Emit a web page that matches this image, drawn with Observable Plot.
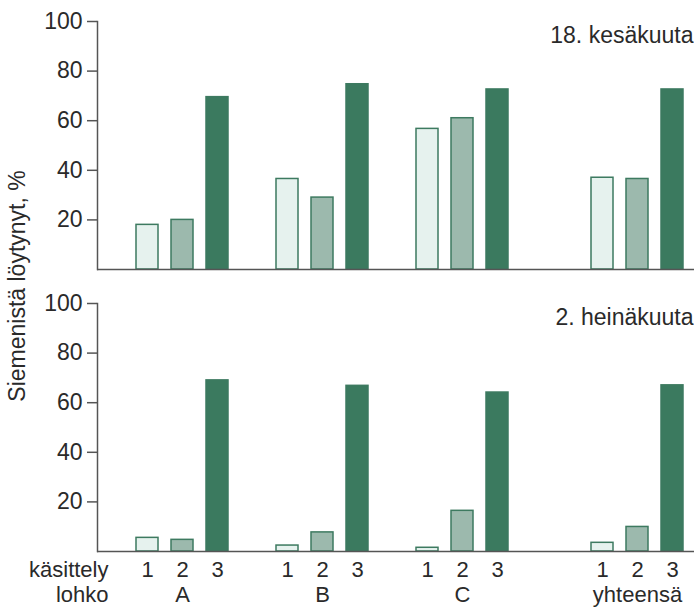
<!DOCTYPE html>
<html><head><meta charset="utf-8">
<script src="https://cdn.jsdelivr.net/npm/d3@7"></script>
<script src="https://cdn.jsdelivr.net/npm/@observablehq/plot@0.6"></script>
<style>body{margin:0;background:#fff;}</style>
</head><body><div id="chart"></div>
<script>
const groups = ["A", "B", "C", "yhteensä"];
const treatments = ["1", "2", "3"];
const dates = ["18. kesäkuuta", "2. heinäkuuta"];
const june18 = [18, 20, 69.5, 36.5, 29, 74.7, 56.7, 61, 72.6, 37, 36.5, 72.6];
const july2 = [5.5, 4.7, 69, 2.4, 7.7, 66.8, 1.5, 16.4, 64.1, 3.5, 9.9, 67];
const yTicks = [20, 40, 60, 80, 100];
const rowLabels = ["käsittely", "lohko"];
const yLabel = "Siemenistä löytynyt, %";
const colors = ["#e6f2ee", "#9cb9ad", "#3b7a5f"];

const slot = (g, t) => g + "|" + t;
const slots = [];
groups.forEach((g, i) => {
  if (i > 0) slots.push("gap" + i);
  if (i === groups.length - 1) slots.push("gap" + i + "b");
  treatments.forEach(t => slots.push(slot(g, t)));
});
const series = [june18, july2];
const rows = dates.flatMap((d, di) => groups.flatMap((g, gi) => treatments.map((t, ti) => ({
  date: d, group: g, treatment: t, value: series[di][gi * 3 + ti]
}))));

const plot = Plot.plot({
  width: 694, height: 608,
  marginLeft: 97, marginRight: 0, marginTop: 20, marginBottom: 56,
  style: {fontFamily: "'Liberation Sans', Arial, sans-serif", fontSize: "23px", color: "#2a2a2a", background: "#fff"},
  x: {domain: slots, paddingInner: 0.37, paddingOuter: 0.682, align: 0.772, axis: null},
  y: {domain: [0, 100], axis: null},
  fy: {domain: dates, paddingInner: 0.12, paddingOuter: 0, axis: null},
  color: {domain: treatments, range: colors},
  marks: [
    Plot.barY(rows, {x: d => slot(d.group, d.treatment), y: "value", fy: "date", fill: "treatment", stroke: "#3d7a60", strokeWidth: 1.5}),
    Plot.ruleY([0], {stroke: "#555", strokeWidth: 1.5}),
    Plot.frame({anchor: "left", stroke: "#555", strokeWidth: 1.5}),
    Plot.axisY({ticks: yTicks, tickSize: 10, tickPadding: 5, fontSize: 23, label: null, stroke: "#555", strokeWidth: 1.5}),
    Plot.axisX({ticks: slots.filter(s => s.includes("|")), tickFormat: s => s.split("|")[1], tickSize: 0, tickPadding: 10, fontSize: 22, label: null}),
    Plot.axisX({ticks: groups.map(g => slot(g, "2")), tickFormat: s => s.split("|")[0], tickSize: 0, tickPadding: 35, fontSize: 22, label: null}),
    Plot.text(dates, {fy: d => d, text: d => d, frameAnchor: "top-right", lineAnchor: "top", dy: 5, dx: -1, fontSize: 23}),
    Plot.text([rowLabels[0]], {fy: () => dates[1], text: d => d, frameAnchor: "bottom-left", lineAnchor: "top", textAnchor: "end", dx: 11, dy: 10, fontSize: 22}),
    Plot.text([rowLabels[1]], {fy: () => dates[1], text: d => d, frameAnchor: "bottom-left", lineAnchor: "top", textAnchor: "end", dx: 11, dy: 35, fontSize: 22})
  ]
});
d3.select(plot).append("text")
  .attr("transform", "translate(25,286) rotate(-90)")
  .attr("text-anchor", "middle")
  .attr("font-size", 23)
  .attr("fill", "currentColor")
  .text(yLabel);
document.getElementById("chart").appendChild(plot);
</script>
</body></html>
